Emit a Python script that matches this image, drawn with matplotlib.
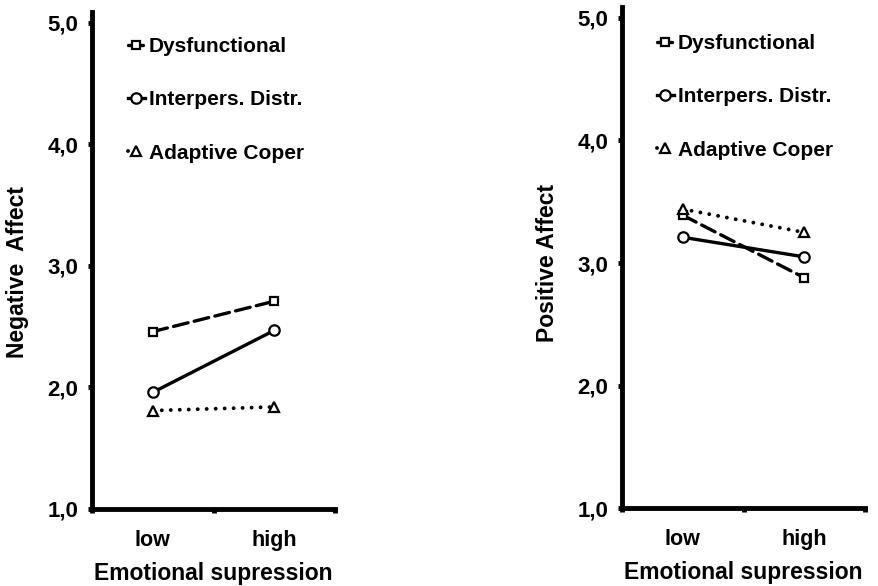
import numpy as np
import matplotlib
matplotlib.use('Agg')
import matplotlib.pyplot as plt

plt.rcParams['font.family'] = ['Liberation Sans', 'DejaVu Sans']
plt.rcParams['font.weight'] = 'bold'

levels = ['low', 'high']
groups = ['Dysfunctional', 'Interpers. Distr.', 'Adaptive Coper']

# negative affect per group (low, high)
neg_dysf = [2.46, 2.71]
neg_inter = [1.96, 2.47]
neg_adapt = [1.81, 1.84]

# positive affect per group (low, high)
pos_dysf = [3.39, 2.88]
pos_inter = [3.21, 3.05]
pos_adapt = [3.44, 3.25]

yticks = [1.0, 2.0, 3.0, 4.0, 5.0]
ytick_labels = ['1,0', '2,0', '3,0', '4,0', '5,0']

styles = [
    dict(ls=(0, (4.5, 1.9)), marker='s', ms=5.8, lw=2.4),
    dict(ls='-', marker='o', ms=7.5, lw=2.4),
    dict(ls=(0, (0.01, 2.3)), marker='^', ms=6.5, lw=2.8),
]


def panel(ax, series, ylabel, leg_anchor, ylab_y):
    x = np.arange(len(levels)) + 0.5
    for vals, name, st in zip(series, groups, styles):
        ax.plot(x, vals, color='black', lw=st['lw'], ls=st['ls'], marker=st['marker'],
                ms=st['ms'], mfc='white', mec='black', mew=1.6,
                dash_capstyle='round', label=name, clip_on=False)
    ax.set_xlim(0, 2)
    ax.set_ylim(1, 5.09)
    ax.set_xticks([0, 1, 2])
    ax.set_xticklabels([])
    ax.set_xticks(x, minor=True)
    ax.set_xticklabels(levels, minor=True, fontsize=15.5, fontweight='bold')
    ax.tick_params(axis='x', which='minor', length=0, pad=15)
    ax.tick_params(axis='x', which='major', direction='out', length=3, width=3.5)
    ax.set_yticks(yticks)
    ax.set_yticklabels(ytick_labels, fontsize=16, fontweight='bold')
    ax.tick_params(axis='y', direction='out', length=3, width=3.5, pad=7)
    for s in ['top', 'right']:
        ax.spines[s].set_visible(False)
    for s in ['left', 'bottom']:
        ax.spines[s].set_linewidth(3.5)
    ax.set_xlabel('Emotional supression', fontsize=16.5, fontweight='bold', labelpad=8)
    ax.set_ylabel(ylabel, fontsize=16.5, fontweight='bold')
    ax.yaxis.set_label_coords(-0.258, ylab_y)
    ax.legend(loc='upper left', bbox_to_anchor=leg_anchor, frameon=False,
              borderpad=0, borderaxespad=0, handlelength=0.8, handletextpad=0.2,
              labelspacing=1.65, prop=dict(weight='bold', size=15))


fig = plt.figure(figsize=(8.79, 5.86), dpi=100)
ax1 = fig.add_axes([0.1047, 0.1314, 0.2765, 0.8481])
ax2 = fig.add_axes([0.7076, 0.1331, 0.2765, 0.8550])

panel(ax1, [neg_dysf, neg_inter, neg_adapt], 'Negative  Affect', (0.148, 0.95), 0.476)
panel(ax2, [pos_dysf, pos_inter, pos_adapt], 'Positive Affect', (0.144, 0.946), 0.49)

fig.savefig('out.png', dpi=100)
